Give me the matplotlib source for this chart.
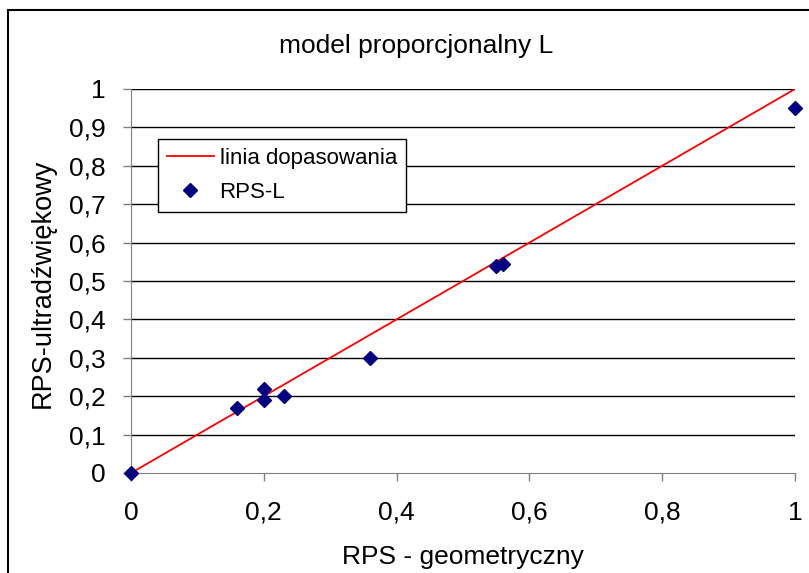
import matplotlib.pyplot as plt
from matplotlib.patches import Rectangle
from matplotlib.transforms import Bbox, TransformedBbox

plt.rcParams['font.family'] = ['Liberation Sans', 'DejaVu Sans']

# Données
rps_geo = [0.0, 0.16, 0.20, 0.20, 0.23, 0.36, 0.55, 0.56, 1.0]
rps_ultra = [0.0, 0.17, 0.22, 0.19, 0.20, 0.30, 0.54, 0.545, 0.95]
fit_x = [0.0, 1.0]
fit_slope = 1.0
x_ticks = [0, 0.2, 0.4, 0.6, 0.8, 1]
y_ticks = [0, 0.1, 0.2, 0.3, 0.4, 0.5, 0.6, 0.7, 0.8, 0.9, 1]

W, H = 809, 573
fig = plt.figure(figsize=(W / 100, H / 100), dpi=100)
ax = fig.add_axes([131 / W, 1 - 473 / H, 664 / W, 384 / H])

# cadre autour du graphique
fig.patches.append(Rectangle((8 / W, -0.05), 1.1, 1 - 10 / H + 0.05,
                             transform=fig.transFigure, fill=False,
                             edgecolor='black', linewidth=1.5))

ax.plot(fit_x, [fit_slope * v for v in fit_x], color='red', linewidth=1.3,
        label='linia dopasowania', zorder=3)
ax.plot(rps_geo, rps_ultra, linestyle='none', marker='D', markersize=7.5,
        color='#000080', label='RPS-L', zorder=4, clip_on=False)

ax.set_xlim(0, 1)
ax.set_ylim(0, 1)
ax.set_xticks(x_ticks)
ax.set_yticks(y_ticks)
ax.set_xticklabels([('%g' % v).replace('.', ',') for v in x_ticks])
ax.set_yticklabels([('%g' % v).replace('.', ',') for v in y_ticks])
ax.tick_params(direction='out', length=6, width=1, color='#808080',
               labelsize=19)
ax.tick_params(axis='x', pad=14)
ax.tick_params(axis='y', pad=12)

for yv in y_ticks[1:]:
    ax.axhline(yv, color='black', linewidth=1, zorder=1)

ax.spines['top'].set_visible(False)
ax.spines['right'].set_visible(False)
ax.spines['left'].set_color('#808080')
ax.spines['bottom'].set_color('#808080')

fig.text(416 / W, 1 - 53 / H, 'model proporcjonalny L', fontsize=19,
         ha='center', va='baseline')
fig.text(463 / W, 1 - 564 / H, 'RPS - geometryczny', fontsize=19,
         ha='center', va='baseline')

# étiquette Y coupée en haut comme dans l'original
ylab = fig.text(43 / W, 1 - 408 / H, 'RPS-ultradźwiękowy', fontsize=19.5,
                rotation=90, ha='center', va='bottom')
ylab.set_clip_box(TransformedBbox(Bbox([[0, 0], [1, 1 - 152 / H]]),
                                  fig.transFigure))
ylab.set_clip_on(True)

leg = ax.legend(loc='upper left', bbox_to_anchor=(158 / W, 1 - 139 / H),
                bbox_transform=fig.transFigure, borderaxespad=0,
                prop={'size': 16},
                frameon=True, fancybox=False, framealpha=1, edgecolor='black',
                handlelength=2.1, handletextpad=0.27, borderpad=0.4,
                labelspacing=0.6)
leg.get_frame().set_linewidth(1)

plt.savefig('out.png', dpi=100)
